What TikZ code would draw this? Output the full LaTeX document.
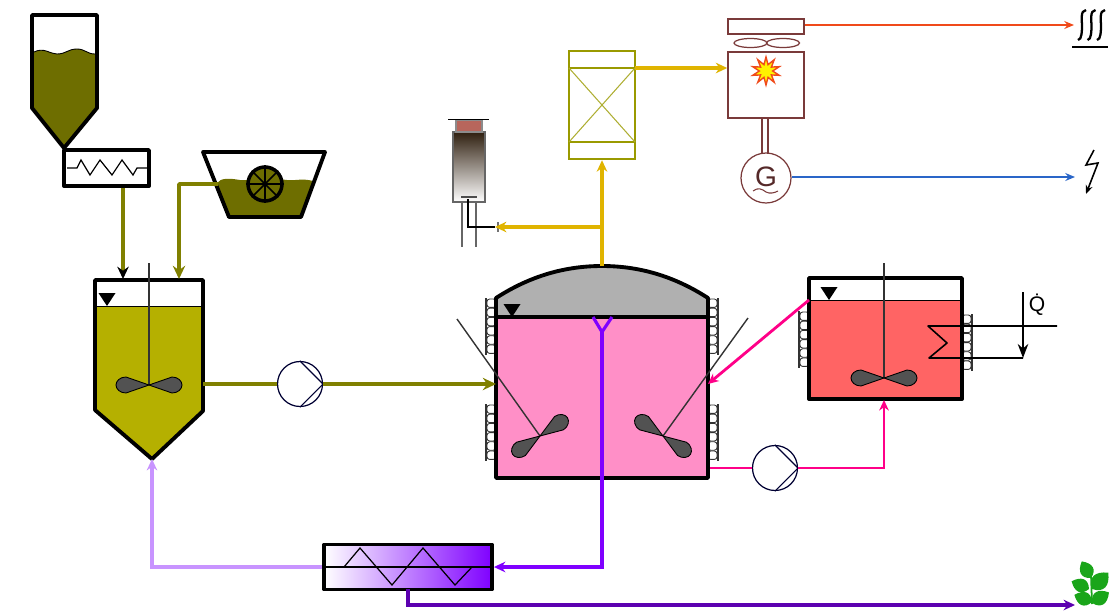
\documentclass[tikz,border=0pt]{standalone}
\usepackage{fontspec}
\setmainfont{Liberation Sans}
\usepackage{xcolor}
\usetikzlibrary{arrows.meta, positioning, shapes.geometric}
\definecolor{solidfeed}{HTML}{6E6E00}
\definecolor{mashline}{HTML}{808000}
\definecolor{mashfill}{HTML}{B5B000}
\definecolor{digfill}{HTML}{FF8FC7}
\definecolor{hydfill}{HTML}{FF6464}
\definecolor{pinkline}{HTML}{FF0088}
\definecolor{violetline}{HTML}{7F00FF}
\definecolor{lilacline}{HTML}{C894FF}
\definecolor{darkviolet}{HTML}{5C00B0}
\definecolor{gasline}{HTML}{E0B400}
\definecolor{cleanline}{HTML}{9A9A00}
\definecolor{chpline}{HTML}{7A3A3A}
\definecolor{heatline}{HTML}{F04A1A}
\definecolor{powerline}{HTML}{2A66C8}
\definecolor{leafgreen}{HTML}{1AA51A}
\definecolor{flaretop}{HTML}{B8665C}

\begin{document}
\begin{tikzpicture}[
  x=0.02cm, y=-0.02cm,
  wall/.style   ={draw, line width=2.2pt, line join=round},
  box/.style    ={rectangle, wall, inner sep=0pt},
  pumpbox/.style={circle, draw=black!80!blue, line width=0.7pt, fill=white, minimum size=0.9cm, inner sep=0pt},
  chpbox/.style ={rectangle, draw=chpline, line width=0.9pt, inner sep=0pt},
  level/.style  ={line width=0.5pt},
  shaft/.style  ={black!80, line width=0.8pt},
  fatline/.style={line width=2.4pt, -{Stealth[length=7.5pt, width=7pt]}},
  midline/.style={line width=1.8pt, -{Stealth[length=6.5pt, width=6pt]}},
  pinkflow/.style={pinkline, line width=1.6pt, -{Stealth[length=6pt, width=5.5pt]}},
  thinline/.style={line width=1.2pt, -{Stealth[length=5.5pt, width=4.5pt]}},
  blade/.pic={
    \draw[fill=black!68, line width=0.5pt] (0,0) -- (23,-8) .. controls (29,-8) and (33,-4) .. (33,0)
      .. controls (33,4) and (29,8) .. (23,8) -- cycle;
  },
  coil/.pic={
    \foreach \k in {0,...,5}
      \draw[fill=white, draw=black!80, line width=0.5pt, rounded corners=1.5pt] (1,9.2*\k) rectangle (10,9.2*\k+8.4);
    \draw[black!80, line width=0.6pt] (0,-1) -- (0,56);
  },
  leaf/.pic={
    \fill[leafgreen] (0,0) .. controls (5,-10) and (13,-9) .. (20,0) .. controls (13,9) and (5,10) .. (0,0);
  }
]
\useasboundingbox (0,0) rectangle (1116,613);

% solids silo and screw
\fill[solidfeed] (34,52) .. controls (44,47) and (50,54) .. (57,54) .. controls (66,54) and (68,49) .. (77,49)
  .. controls (85,49) and (87,54) .. (95,54) -- (95,108) -- (64,148) -- (34,108) -- cycle;
\draw[line width=0.5pt] (34,52) .. controls (44,47) and (50,54) .. (57,54) .. controls (66,54) and (68,49) .. (77,49)
  .. controls (85,49) and (87,54) .. (95,54);
\draw[wall] (32,15) -- (97,15) -- (97,108) -- (64,148) -- (32,108) -- cycle;
\node[box, fill=white, minimum width=1.7cm, minimum height=0.72cm] (screw) at (106.5,168) {};
\draw[line width=0.7pt] (67,168) -- (77,168) -- (81,160) -- (90,175) -- (100,160) -- (112,175)
  -- (122,160) -- (133,175) -- (137,168) -- (147,168);

% liquid feed trough
\fill[solidfeed] (217,183) .. controls (221,178) and (228,178) .. (240,180) .. controls (255,181) and (275,178) .. (287,180)
  .. controls (295,181) and (302,178) .. (313,181) -- (301,217) -- (229,217) -- cycle;
\draw[wall] (203,152) -- (325,152) -- (301,217) -- (229,217) -- cycle;
\node[circle, draw, line width=2pt, fill=solidfeed, minimum size=0.68cm, inner sep=0pt] (wheel) at (265,184) {};
\foreach \a [evaluate=\a as \b using int(\a+180)] in {0,45,90,135}
  \draw[line width=0.9pt] (wheel.\a) -- (wheel.\b);
\coordinate (troughout) at (218,184);

% mixing tank
\coordinate (mixtip) at (152,459);
\coordinate (mixfeed) at (123,279);
\coordinate (mixfeedb) at (179,279);
\fill[mashfill] (95,306) -- (203,306) -- (203,411) -- (mixtip) -- (95,410) -- cycle;
\draw[level] (95,306) -- (203,306);
\draw[wall] (95,280) -- (203,280) -- (203,411) -- (mixtip) -- (95,410) -- cycle;
\coordinate (mixout) at (203,384);
\draw[shaft] (149,263) -- (149,385);
\pic at (149,385) {blade};
\pic[rotate=180] at (149,385) {blade};

% digester
\foreach \x/\s in {496/1,708/-1}
  \foreach \y in {299,405}
    \pic[xscale=\s] at (\x-10*\s,\y) {coil};
\fill[black!31] (496,317) -- (496,298) .. controls (530,276) and (565,266) .. (602,266)
  .. controls (639,266) and (674,276) .. (708,298) -- (708,317) -- cycle;
\node[box, fill=digfill, minimum width=4.24cm, minimum height=3.22cm] (dig) at (602,397.5) {};
\draw[wall] (496,317) -- (496,298) .. controls (530,276) and (565,266) .. (602,266)
  .. controls (639,266) and (674,276) .. (708,298) -- (708,317);
\coordinate (domeout) at (602,266);
\coordinate (digrec) at (708,384);
\coordinate (digin) at (496,384);
\coordinate (digout) at (710,468);
\coordinate (digy) at (602,332);
\draw[shaft] (457,319) -- (540,436);
\draw[shaft] (748,318) -- (663,436);
\pic[rotate=34] at (540,436) {blade};
\pic[rotate=214] at (540,436) {blade};
\pic[rotate=146] at (663,436) {blade};
\pic[rotate=-34] at (663,436) {blade};

% hydrolysis tank
\pic at (799,312) {coil};
\pic[xscale=-1] at (972,315) {coil};
\fill[hydfill] (809,300) rectangle (962,399);
\node[box, minimum width=3.06cm, minimum height=2.42cm] (hyd) at (885.5,338.5) {};
\draw[level] (809,300) -- (962,300);
\coordinate (hydout) at (809,300);
\coordinate (hydin) at (884,400);
\draw[shaft] (884,263) -- (884,378);
\pic at (884,378) {blade};
\pic[rotate=180] at (884,378) {blade};
\coordinate (qin) at (1023,292);
\coordinate (qend) at (1023,358);
\draw[line width=0.9pt, line join=round] (1057,326) -- (928,326) -- (947,343) -- (929,358) -- (qend);
\draw[line width=0.9pt, -{Stealth[length=8pt, width=6pt]}] (qin) -- (qend);
\node[font=\fontsize{12}{12}\selectfont] (qdot) at (1037,305) {\.Q};

% level marks
\foreach \x/\y in {107/306,512/317,829/300}
  \fill (\x-8.5,\y-13) -- (\x+8.5,\y-13) -- (\x,\y) -- cycle;

% pumps
\node[pumpbox] (pumpa) at (300,384) {};
\node[pumpbox] (pumpb) at (775,468) {};
\foreach \c in {pumpa,pumpb}
  \draw[black!80!blue, line width=0.7pt] (\c.north) -- (\c.east) -- (\c.south);

% heat exchanger
\node[box, left color=white, right color=violetline, minimum width=3.36cm, minimum height=0.9cm] (hex) at (408,567) {};
\coordinate (hexout) at (408,589);
\draw[line width=0.8pt] (hex.west) -- (hex.east);
\draw[line width=0.7pt] (344,567) -- (360,548) -- (392,585) -- (423,548) -- (455,585) -- (472,567);

% gas cleaning
\node[rectangle, draw=cleanline, line width=1.4pt, minimum width=1.32cm, minimum height=2.16cm, inner sep=0pt] (clean) at (602,105) {};
\coordinate (cleanout) at (635,68);
\coordinate (gastee) at (602,227);
\draw[cleanline, line width=0.7pt] (569,68) -- (635,68);
\draw[cleanline, line width=0.7pt] (569,142) -- (635,142);
\draw[cleanline!80, line width=0.6pt] (569,68) -- (635,142);
\draw[cleanline!80, line width=0.6pt] (635,68) -- (569,142);

% flare
\node[rectangle, draw=black!60, line width=0.6pt, top color=black!75!brown, bottom color=white, minimum width=0.64cm, minimum height=1.4cm, inner sep=0pt] (flare) at (469,167) {};
\fill[flaretop, draw=black!45, line width=0.6pt] (456,120) rectangle (482,132);
\draw[line width=0.5pt] (448,119) -- (489,119);
\draw[black!70, line width=1.6pt] (461,197) -- (477,197);
\draw[black!60, line width=0.7pt] (462,202) -- (462,247);
\draw[black!60, line width=0.7pt] (476,202) -- (476,247);
\coordinate (flarein) at (495,227);
\draw[black!55, line width=0.8pt] (498,222) -- (498,232);
\draw[line width=1.1pt] (468,199) -- (468,227) -- (flarein);

% CHP unit
\node[chpbox, minimum width=1.52cm, minimum height=1.32cm] (engine) at (766,85) {};
\node[chpbox, minimum width=1.52cm, minimum height=0.3cm] (cooler) at (766,26.5) {};
\node[ellipse, draw=chpline, line width=0.7pt, minimum width=0.66cm, minimum height=0.18cm, inner sep=0pt] (fanl) at (750.5,43) {};
\node[ellipse, draw=chpline, line width=0.7pt, minimum width=0.66cm, minimum height=0.18cm, inner sep=0pt] (fanr) at (783,43) {};
\node[star, star points=10, star point ratio=2.1, draw=heatline, line width=0.8pt, fill=yellow, minimum size=0.56cm, inner sep=0pt] (spark) at (766,71) {};
\node[circle, draw=chpline, line width=0.7pt, minimum size=1cm, inner sep=0pt, text=chpline!70!black, font=\fontsize{16}{16}\selectfont] (gen) at (766,178) {\raisebox{2pt}{G}};
\draw[chpline, line width=0.6pt] (753,191) .. controls (758,187) and (762,189) .. (766,192) .. controls (770,194) and (774,193) .. (778,191);
\draw[chpline, line width=0.7pt] (762,118) -- (762,154);
\draw[chpline, line width=0.7pt] (768,118) -- (768,154);

% outlets
\coordinate (heatend) at (1074,25);
\coordinate (powerend) at (1075,177);
\coordinate (soilend) at (1075,605);
\foreach \o in {0,9.5,19}
  \draw[line width=1.3pt, xshift=\o*0.02cm] (1086,10) .. controls (1080,10) and (1082,22) .. (1082,25)
    .. controls (1082,30) and (1082,40) .. (1078,40);
\draw[line width=1.2pt] (1072,47) -- (1108,47);
\draw[line width=0.9pt, -{Stealth[length=5pt, width=4pt]}] (1094,150) -- (1086,165) -- (1098,163) -- (1086,194);
\draw[leafgreen, line width=1pt] (1091,575) -- (1092,604);
\pic[rotate=119, scale=0.95] at (1091,578) {leaf};
\pic[rotate=156, scale=0.95] at (1089,589) {leaf};
\pic[rotate=45, scale=1.15] at (1092,589) {leaf};
\pic[rotate=158, scale=0.95] at (1092,602) {leaf};
\pic[rotate=32, scale=1] at (1092,603) {leaf};

% streams
\draw[mashline, line width=2.2pt, -{Stealth[length=7pt, width=6.5pt, black]}] (screw.south -| mixfeed) -- (mixfeed);
\draw[mashline, fatline, line width=2.2pt, rounded corners=0.5pt] (troughout) -- (troughout -| mixfeedb) -- (mixfeedb);
\draw[mashline, line width=2.6pt] (mixout) -- (pumpa.west);
\draw[mashline, fatline] (pumpa.east) -- (digin);
\draw[pinkflow] (hydout) -- (digrec);
\draw[pinkline, line width=1.6pt] (digout) -- (pumpb.west);
\draw[pinkflow] (pumpb.east) -- (hydin |- pumpb.east) -- (hydin);
\draw[violetline, line width=1.8pt, line join=round] (593,317) -- (digy) -- (612,317);
\draw[violetline, midline] (digy) -- (digy |- hex.east) -- (hex.east);
\draw[lilacline, midline] (hex.west) -- (mixtip |- hex.west) -- (mixtip);
\draw[darkviolet, midline] (hexout) -- (hexout |- soilend) -- (soilend);
\draw[gasline, midline] (domeout) -- (clean.south);
\draw[gasline, midline] (gastee) -- (flarein);
\draw[gasline, midline] (cleanout) -- (engine.west |- cleanout);
\draw[heatline, thinline] (cooler.east |- heatend) -- (heatend);
\draw[powerline, thinline] (gen.east |- powerend) -- (powerend);

\end{tikzpicture}
\end{document}
